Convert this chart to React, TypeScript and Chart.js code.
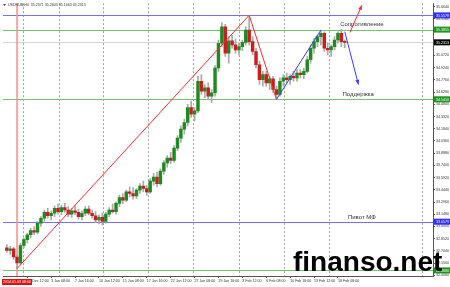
import React, { useEffect, useRef } from "react";
import { Chart, registerables } from "chart.js";
Chart.register(...registerables);

// ---- data ----
const opens = [32.74,32.71,32.73,32.63,32.56,32.77,32.84,32.90,32.95,32.93,33.04,33.10,33.17,33.13,33.16,33.22,33.18,33.23,33.20,33.15,33.19,33.17,33.12,33.16,33.21,33.16,33.13,33.08,33.11,33.06,33.15,33.20,33.18,33.28,33.35,33.32,33.42,33.40,33.37,33.44,33.49,33.46,33.42,33.55,33.60,33.52,33.67,33.77,33.83,33.80,33.95,34.07,34.18,34.26,34.44,34.36,34.40,34.76,34.64,34.68,34.58,34.62,34.92,35.22,35.42,35.10,35.25,35.20,35.14,35.18,35.23,35.38,35.24,35.12,34.96,34.78,34.84,34.74,34.79,34.66,34.60,34.76,34.80,34.78,34.82,34.80,34.86,34.84,34.88,35.02,35.16,35.24,35.30,35.34,35.16,35.14,35.18,35.26,35.34,35.2371];
const highs = [32.78,32.76,32.75,32.66,32.80,32.86,32.92,32.98,33.00,33.06,33.12,33.20,33.22,33.19,33.25,33.27,33.26,33.28,33.24,33.22,33.25,33.21,33.19,33.24,33.25,33.20,33.18,33.14,33.16,33.17,33.23,33.27,33.30,33.38,33.40,33.44,33.48,33.47,33.46,33.52,33.55,33.50,33.58,33.64,33.66,33.70,33.80,33.86,33.90,33.98,34.10,34.22,34.30,34.48,34.52,34.44,34.82,34.84,34.72,34.74,34.66,34.95,35.26,35.47,35.45,35.30,35.32,35.27,35.22,35.26,35.42,35.56,35.30,35.16,35.00,34.88,34.88,34.82,34.82,34.70,34.80,34.84,34.86,34.84,34.88,34.90,34.90,34.92,35.06,35.20,35.28,35.32,35.38,35.36,35.22,35.20,35.30,35.36,35.39,35.2603];
const lows = [32.69,32.66,32.60,32.49,32.54,32.74,32.80,32.86,32.90,32.91,33.00,33.06,33.10,33.08,33.12,33.15,33.14,33.17,33.12,33.11,33.14,33.09,33.08,33.13,33.14,33.10,33.05,33.03,33.02,33.04,33.12,33.16,33.15,33.24,33.28,33.30,33.36,33.33,33.34,33.40,33.42,33.38,33.40,33.50,33.48,33.50,33.63,33.72,33.76,33.78,33.92,34.02,34.12,34.22,34.32,34.28,34.38,34.60,34.56,34.54,34.50,34.58,34.88,35.18,35.06,34.98,35.16,35.10,35.08,35.13,35.20,35.20,35.08,34.92,34.72,34.70,34.70,34.66,34.62,34.54,34.58,34.70,34.74,34.72,34.76,34.76,34.80,34.79,34.86,34.98,35.10,35.18,35.20,35.12,35.08,35.06,35.14,35.22,35.18,35.1663];
const closes = [32.71,32.73,32.63,32.56,32.77,32.84,32.90,32.95,32.93,33.04,33.10,33.17,33.13,33.16,33.22,33.18,33.23,33.20,33.15,33.19,33.17,33.12,33.16,33.21,33.16,33.13,33.08,33.11,33.06,33.15,33.20,33.18,33.28,33.35,33.32,33.42,33.40,33.37,33.44,33.49,33.46,33.42,33.55,33.60,33.52,33.67,33.77,33.83,33.80,33.95,34.07,34.18,34.26,34.44,34.36,34.40,34.76,34.64,34.68,34.58,34.62,34.92,35.22,35.42,35.10,35.25,35.20,35.14,35.18,35.23,35.38,35.24,35.12,34.96,34.78,34.84,34.74,34.79,34.66,34.60,34.76,34.80,34.78,34.82,34.80,34.86,34.84,34.88,35.02,35.16,35.24,35.30,35.34,35.16,35.14,35.18,35.26,35.34,35.24,35.2313];

const xLabels = ["30 Dec 12:00","3 Jan 08:00","7 Jan 16:00","10 Jan 12:00","15 Jan 08:00","17 Jan 16:00","22 Jan 12:00","27 Jan 08:00","29 Jan 16:00","3 Feb 12:00","6 Feb 08:00","10 Feb 16:00","13 Feb 12:00","18 Feb 08:00"];
const xLabelBars = [6,13,20,27,34,41,48,55,62,69,76,83,90,97];
const gridBars = [4.7,15.3,28.2,41.4,54.5,68,81.2,94.4,121.6];
const yTicks = [35.664,35.516,35.368,35.22,35.072,34.924,34.776,34.628,34.48,34.332,34.184,34.036,33.888,33.74,33.592,33.444,33.296,33.148,33.0,32.852,32.704,32.556,32.408];

const symbolHeader = "USDRUB,H4  35.2371 35.2603 35.1663 35.2313";
const blueLevels = [35.5578, 33.0579];
const greenLevels = [35.3855, 34.541, 32.468];
const bidLevel = 35.2313;
const markerBar = 3;
const markerLabel = "2014.01.03 08:00";
const redTrend = [[3, 32.49], [71, 35.56], [79, 34.54]];
const blueTrend = [[79, 34.54], [92, 35.38]];
const blueArrow = [[99, 35.36], [103, 34.72]];
const redArrow = [[100.5, 35.35], [104, 35.68]];
const notes = [
  { text: "Сопротивление", bar: 104, price: 35.45 },
  { text: "Поддержка", bar: 102.9, price: 34.6 },
  { text: "Пивот МФ", bar: 104, price: 33.107 },
];
const watermark = "finanso.net";

const XMIN = -1.11, XMAX = 124.84, YMIN = 32.40, YMAX = 35.706;

export default function App() {
  const ref = useRef<HTMLCanvasElement | null>(null);
  useEffect(() => {
    const canvas = ref.current!;
    const FONT = "'Liberation Sans', Arial, sans-serif";
    const idx = closes.map((_, i) => i);
    const up = idx.map(i => closes[i] >= opens[i]);

    const line = (ctx: CanvasRenderingContext2D, pts: number[][], x: any, y: any) => {
      ctx.beginPath();
      pts.forEach((p, k) => {
        const px = x.getPixelForValue(p[0]), py = y.getPixelForValue(p[1]);
        if (k === 0) ctx.moveTo(px, py); else ctx.lineTo(px, py);
      });
      ctx.stroke();
    };
    const arrowHead = (ctx: CanvasRenderingContext2D, pts: number[][], x: any, y: any) => {
      const x1 = x.getPixelForValue(pts[0][0]), y1 = y.getPixelForValue(pts[0][1]);
      const x2 = x.getPixelForValue(pts[1][0]), y2 = y.getPixelForValue(pts[1][1]);
      const ang = Math.atan2(y2 - y1, x2 - x1);
      ctx.beginPath();
      ctx.moveTo(x2, y2);
      ctx.lineTo(x2 - 5 * Math.cos(ang - 0.4), y2 - 5 * Math.sin(ang - 0.4));
      ctx.lineTo(x2 - 5 * Math.cos(ang + 0.4), y2 - 5 * Math.sin(ang + 0.4));
      ctx.closePath();
      ctx.fill();
    };

    const overlay = {
      id: "overlay",
      beforeDatasetsDraw(chart: any) {
        const { ctx, chartArea: a, scales } = chart;
        const x = scales.x, y = scales.y;
        ctx.save();
        ctx.beginPath();
        ctx.rect(a.left, a.top, a.right - a.left, a.bottom - a.top);
        ctx.clip();
        ctx.lineWidth = 1;
        ctx.strokeStyle = "#a0a0a0";
        ctx.setLineDash([2, 2]);
        gridBars.forEach(b => {
          const px = Math.round(x.getPixelForValue(b)) + 0.5;
          ctx.beginPath(); ctx.moveTo(px, a.top); ctx.lineTo(px, a.bottom); ctx.stroke();
        });
        ctx.setLineDash([]);
        const hline = (v: number, c: string) => {
          const py = Math.round(y.getPixelForValue(v)) + 0.5;
          ctx.strokeStyle = c;
          ctx.beginPath(); ctx.moveTo(a.left, py); ctx.lineTo(a.right, py); ctx.stroke();
        };
        hline(bidLevel, "#d4d4d4");
        blueLevels.forEach(v => hline(v, "#7373f0"));
        greenLevels.forEach(v => hline(v, "#78c078"));
        ctx.strokeStyle = "#ff8a8a";
        ctx.lineWidth = 1.5;
        const mx = x.getPixelForValue(markerBar);
        ctx.beginPath(); ctx.moveTo(mx, a.top); ctx.lineTo(mx, a.bottom); ctx.stroke();
        ctx.restore();
      },
      afterDatasetsDraw(chart: any) {
        const { ctx, chartArea: a, scales } = chart;
        const x = scales.x, y = scales.y;
        ctx.save();
        ctx.beginPath();
        ctx.rect(a.left, a.top, a.right - a.left, a.bottom - a.top);
        ctx.clip();
        ctx.lineWidth = 1;
        ctx.strokeStyle = "#ff2a2a"; ctx.fillStyle = "#ff2a2a";
        line(ctx, redTrend, x, y);
        line(ctx, redArrow, x, y);
        arrowHead(ctx, redArrow, x, y);
        ctx.strokeStyle = "#3a3aff"; ctx.fillStyle = "#3a3aff";
        line(ctx, blueTrend, x, y);
        line(ctx, blueArrow, x, y);
        arrowHead(ctx, blueArrow, x, y);
        ctx.fillStyle = "#333";
        ctx.font = `6px ${FONT}`;
        ctx.textAlign = "center";
        ctx.textBaseline = "middle";
        notes.forEach(n => ctx.fillText(n.text, x.getPixelForValue(n.bar), y.getPixelForValue(n.price)));
        ctx.restore();
      },
      afterDraw(chart: any) {
        const { ctx, chartArea: a, scales } = chart;
        const x = scales.x, y = scales.y;
        ctx.save();
        const tag = (v: number, bg: string) => {
          const py = y.getPixelForValue(v);
          ctx.fillStyle = bg;
          ctx.fillRect(a.right + 1, py - 3, 16, 6);
          ctx.fillStyle = "#fff";
          ctx.font = `3.6px ${FONT}`;
          ctx.textAlign = "left";
          ctx.textBaseline = "middle";
          ctx.fillText(v.toFixed(4), a.right + 3, py + 0.3);
        };
        blueLevels.forEach(v => tag(v, "#2e2eff"));
        greenLevels.forEach(v => tag(v, "#1e961e"));
        tag(bidLevel, "#000");
        // header
        ctx.fillStyle = "#333";
        ctx.beginPath(); ctx.moveTo(3, 4); ctx.lineTo(6, 4); ctx.lineTo(4.5, 6); ctx.closePath(); ctx.fill();
        ctx.font = `3.6px ${FONT}`;
        ctx.textAlign = "left"; ctx.textBaseline = "middle";
        ctx.fillText(symbolHeader, 8, 5);
        // marker time box
        const mx = x.getPixelForValue(markerBar);
        ctx.fillStyle = "#e01010";
        ctx.fillRect(mx - 15, a.bottom + 3, 30, 6);
        ctx.fillStyle = "#fff";
        ctx.textAlign = "center";
        ctx.fillText(markerLabel, mx, a.bottom + 6.2);
        // watermark
        ctx.fillStyle = "#000";
        ctx.font = `bold 28px ${FONT}`;
        ctx.textAlign = "left";
        ctx.textBaseline = "alphabetic";
        ctx.fillText(watermark, 293, 271);
        ctx.restore();
      },
    };

    const chart = new Chart(canvas, {
      type: "bar",
      data: {
        datasets: [
          {
            data: idx.map(i => ({ x: i, y: [lows[i], highs[i]] })) as any,
            backgroundColor: "#a9a9a9",
            barThickness: 1,
            grouped: false,
            order: 2,
          } as any,
          {
            data: idx.map(i => ({ x: i, y: [opens[i], closes[i]] })) as any,
            backgroundColor: up.map(u => (u ? "#1f8a1f" : "#c81e1e")),
            barThickness: 2.8,
            minBarLength: 1,
            grouped: false,
            order: 1,
          } as any,
        ],
      },
      plugins: [overlay],
      options: {
        animation: false,
        responsive: false,
        devicePixelRatio: 1,
        events: [],
        layout: { padding: { left: 3, top: 3, right: 0, bottom: 0 } },
        plugins: { legend: { display: false }, tooltip: { enabled: false } },
        scales: {
          x: {
            type: "linear",
            min: XMIN,
            max: XMAX,
            offset: false,
            position: "bottom",
            afterBuildTicks: (s: any) => { s.ticks = xLabelBars.map(v => ({ value: v })); },
            afterFit: (s: any) => { s.height = 11; },
            ticks: {
              autoSkip: false,
              maxRotation: 0,
              minRotation: 0,
              align: "start",
              padding: 1,
              color: "#333",
              font: { size: 3.6, family: FONT },
              callback: (_v: any, i: number) => xLabels[i],
            },
            grid: { drawOnChartArea: false, tickLength: 2, color: "#555", offset: false },
            border: { display: true, color: "#555" },
          } as any,
          y: {
            type: "linear",
            position: "right",
            min: YMIN,
            max: YMAX,
            afterBuildTicks: (s: any) => { s.ticks = yTicks.map(v => ({ value: v })); },
            afterFit: (s: any) => { s.width = 17; },
            ticks: {
              padding: 1,
              color: "#333",
              font: { size: 3.6, family: FONT },
              callback: (v: any) => Number(v).toFixed(4),
            },
            grid: { drawOnChartArea: false, tickLength: 2, color: "#555" },
            border: { display: true, color: "#555" },
          } as any,
        },
      },
    });
    return () => chart.destroy();
  }, []);

  return (
    <div style={{ position: "fixed", left: 0, top: 0, width: 450, height: 287, background: "#fff" }}>
      <canvas ref={ref} width={450} height={287} style={{ display: "block", width: 450, height: 287 }} />
    </div>
  );
}
